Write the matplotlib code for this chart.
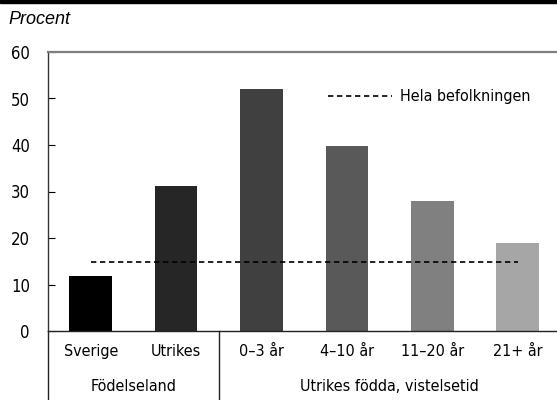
import matplotlib
matplotlib.use("Agg")
import matplotlib.pyplot as plt
from matplotlib import font_manager
from matplotlib.lines import Line2D
from matplotlib.patches import Rectangle

categories = ["Sverige", "Utrikes", "0–3 år", "4–10 år", "11–20 år", "21+ år"]
values = [11.8, 31.1, 52.0, 39.8, 27.9, 18.9]
colors = ["#000000", "#262626", "#404040", "#595959", "#808080", "#a6a6a6"]
total_pop = 14.8
groups = ["Födelseland", "Utrikes födda, vistelsetid"]
group_spans = [(0, 2), (2, 6)]
yticks = [0, 10, 20, 30, 40, 50, 60]

# pick a condensed font if one is installed
cond_path = None
for f in font_manager.fontManager.ttflist:
    fn = f.fname.lower()
    if ("narrow" in fn or "condensed" in fn) and "bold" not in fn and "oblique" not in fn and "italic" not in fn:
        if cond_path is None or "liberation" in fn:
            cond_path = f.fname
if cond_path:
    fp = font_manager.FontProperties(fname=cond_path)
    fam = fp.get_name()
    plt.rcParams["font.family"] = [fam, "DejaVu Sans"]
    if "dejavu" in cond_path.lower():
        plt.rcParams["font.stretch"] = "condensed"
else:
    plt.rcParams["font.family"] = ["Liberation Sans", "DejaVu Sans"]

FS = 11.5

fig = plt.figure(figsize=(5.57, 4.0), dpi=100)
ax = fig.add_axes([48/557, 1-331/400, 1-48/557, (331-52)/400])

x = list(range(len(categories)))
ax.bar(x, values, width=0.5, color=colors, zorder=2)
ax.plot([x[0], x[-1]], [total_pop, total_pop], linestyle=(0, (3.2, 2.2)), color="black",
        linewidth=1.2, zorder=3, label="Hela befolkningen")

ax.set_xlim(-0.5, (557-48)/85.4 - 0.5)
ax.set_ylim(0, 60)
ax.set_yticks(yticks)
ax.set_yticklabels([str(t) for t in yticks], fontsize=12)
ax.tick_params(axis="y", direction="in", length=5, pad=13, width=0.8)
ax.set_xticks([])

ax.spines["right"].set_visible(False)
ax.spines["top"].set_color("#7f7f7f")
ax.spines["top"].set_linewidth(1.6)
ax.spines["left"].set_color("#333333")
ax.spines["bottom"].set_color("#222222")
ax.spines["left"].set_linewidth(1.0)
ax.spines["bottom"].set_linewidth(1.0)

trans = ax.get_xaxis_transform()
for i, c in enumerate(categories):
    ax.text(i, -0.075, c, transform=trans, ha="center", va="center", fontsize=FS)
for g, (a, b) in zip(groups, group_spans):
    ax.text((a + b - 1) / 2, -0.2, g, transform=trans, ha="center", va="center", fontsize=FS)
for pos in [-0.5, 1.5]:
    ax.add_line(Line2D([pos, pos], [0, -0.26], transform=trans, color="#222222",
                       linewidth=1.0, clip_on=False))

leg = ax.legend(loc="center left", bbox_to_anchor=(0.55, 0.839), frameon=False,
                handlelength=4.0, handletextpad=0.5, fontsize=FS,
                borderaxespad=0.0, borderpad=0.0)

fig.text(8/557, 1-20/400, "Procent", fontsize=13, style="italic",
         family="Liberation Sans", ha="left", va="center")
fig.patches.append(Rectangle((0, 1-3/400), 1, 3/400, transform=fig.transFigure,
                             color="black", zorder=10))

fig.savefig("out.png", dpi=100)
